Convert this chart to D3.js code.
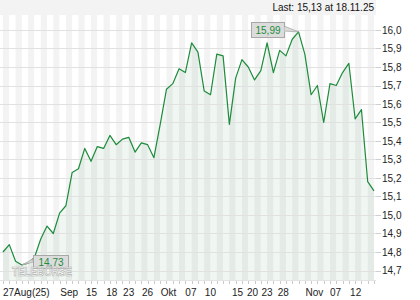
<!DOCTYPE html>
<html>
<head>
<meta charset="utf-8">
<script src="https://cdn.jsdelivr.net/npm/d3@7"></script>
<style>
  body { margin: 0; background: #fff; }
  svg { display: block; font-family: "Liberation Sans", Arial, sans-serif; }
</style>
</head>
<body>
<div id="chart"></div>
<script>
// trading days 27.08.25 - 18.11.25
const dates = [
  "27.08", "28.08", "29.08",
  "01.09", "02.09", "03.09", "04.09", "05.09", "08.09", "09.09", "10.09", "11.09", "12.09",
  "15.09", "16.09", "17.09", "18.09", "19.09", "22.09", "23.09", "24.09", "25.09", "26.09",
  "29.09", "30.09",
  "01.10", "02.10", "03.10", "06.10", "07.10", "08.10", "09.10", "10.10", "13.10", "14.10",
  "15.10", "16.10", "17.10", "20.10", "21.10", "22.10", "23.10", "24.10", "27.10", "28.10",
  "29.10", "30.10", "31.10",
  "03.11", "04.11", "05.11", "06.11", "07.11", "10.11", "11.11", "12.11", "13.11", "14.11",
  "17.11", "18.11"
];
const closes = [
  14.80, 14.84, 14.75, 14.73, 14.74, 14.77, 14.87, 14.94, 14.90, 15.01,
  15.05, 15.23, 15.25, 15.36, 15.29, 15.37, 15.36, 15.43, 15.38, 15.41,
  15.42, 15.34, 15.39, 15.38, 15.31, 15.49, 15.68, 15.71, 15.79, 15.77,
  15.93, 15.88, 15.67, 15.65, 15.87, 15.86, 15.49, 15.74, 15.84, 15.80,
  15.73, 15.78, 15.93, 15.77, 15.89, 15.86, 15.95, 15.99, 15.87, 15.65,
  15.70, 15.50, 15.71, 15.70, 15.77, 15.82, 15.52, 15.57, 15.18, 15.13
];
// label anchor positions (in day index units)
const xTickIdx = [0, 9.1, 13.2, 16.4, 19.1, 22.1, 25.1, 29, 32.1, 36.4, 38.8, 41.1, 43.7, 48.1, 52, 55.2];
const xTickLabels = ["27Aug(25)", "Sep", "15", "18", "23", "26", "Okt", "07", "10", "15", "20", "23", "28", "Nov", "07", "12"];
const yTicks = [14.7, 14.8, 14.9, 15.0, 15.1, 15.2, 15.3, 15.4, 15.5, 15.6, 15.7, 15.8, 15.9, 16.0];
const lastText = "Last: 15,13 at 18.11.25";

const W = 420, H = 300;
const plot = { left: 0, right: 376, top: 15, bottom: 280 };
const green = "#1c8b3b";
const fmt = v => d3.format(".2f")(v).replace(".", ",");

const svg = d3.select("#chart").append("svg").attr("width", W).attr("height", H);

const x = d3.scaleLinear().domain([0, closes.length - 1]).range([3, 374]);
const y = d3.scaleLinear().domain([14.7, 16.0]).range([270.5, 30]);

// header strip
svg.append("rect").attr("x", 0).attr("y", 0).attr("width", plot.right).attr("height", plot.top)
  .attr("fill", "#f3f3f3");
svg.append("text").attr("x", 374).attr("y", 10.7).attr("text-anchor", "end")
  .attr("font-size", 10).attr("fill", "#111").text(lastText);

// day stripes
const bands = d3.range(-1, closes.length);
svg.append("g").selectAll("rect").data(bands).enter().append("rect")
  .attr("x", i => Math.max(plot.left, x(i)))
  .attr("y", plot.top)
  .attr("width", i => Math.min(plot.right, x(i + 1)) - Math.max(plot.left, x(i)))
  .attr("height", plot.bottom - plot.top)
  .attr("fill", i => (i % 2 === 0 ? "#f3f3f3" : "#ffffff"));

// area under line
const area = d3.area().x((d, i) => x(i)).y0(plot.bottom).y1(d => y(d));
svg.append("path").datum(closes).attr("d", area)
  .attr("fill", "#2e7d32").attr("fill-opacity", 0.07);

// horizontal grid + right axis
const gy = svg.append("g");
gy.selectAll("line.grid").data(yTicks).enter().append("line")
  .attr("class", "grid")
  .attr("x1", plot.left).attr("x2", plot.right)
  .attr("y1", d => Math.round(y(d)) + 0.5).attr("y2", d => Math.round(y(d)) + 0.5)
  .attr("stroke", "#e1e1e1");
gy.selectAll("line.tick").data(yTicks).enter().append("line")
  .attr("class", "tick")
  .attr("x1", plot.right).attr("x2", plot.right + 5)
  .attr("y1", d => Math.round(y(d)) + 0.5).attr("y2", d => Math.round(y(d)) + 0.5)
  .attr("stroke", "#cfcfcf");
gy.selectAll("text").data(yTicks).enter().append("text")
  .attr("x", 382).attr("y", d => y(d)).attr("dy", "0.35em")
  .attr("font-size", 10).attr("fill", "#222")
  .text(d => d3.format(".1f")(d).replace(".", ","));

// bottom day ticks
svg.append("line").attr("x1", plot.left).attr("x2", plot.right)
  .attr("y1", plot.bottom + 0.5).attr("y2", plot.bottom + 0.5).attr("stroke", "#e4e4e4");
svg.append("g").selectAll("line").data(closes).enter().append("line")
  .attr("x1", (d, i) => Math.round(x(i)) + 0.5).attr("x2", (d, i) => Math.round(x(i)) + 0.5)
  .attr("y1", plot.bottom + 1).attr("y2", plot.bottom + 4)
  .attr("stroke", "#c8c8c8");
svg.append("g").selectAll("text").data(xTickIdx).enter().append("text")
  .attr("x", d => x(d)).attr("y", 296)
  .attr("font-size", 10).attr("fill", "#222")
  .text((d, i) => xTickLabels[i]);

// price line
const line = d3.line().x((d, i) => x(i)).y(d => y(d));
svg.append("path").datum(closes).attr("d", line)
  .attr("fill", "none").attr("stroke", green).attr("stroke-width", 1.2)
  .attr("stroke-linejoin", "round");

// max / min callouts
const iMax = d3.maxIndex(closes), iMin = d3.minIndex(closes);
function callout(i, bx, by, bw, bh, side) {
  const px = x(i), py = y(closes[i]);
  const g = svg.append("g");
  const ex = side === "left" ? bx + bw : bx;
  g.append("path")
    .attr("d", `M${ex},${by + 4}L${px},${py}L${ex},${by + bh - 6}Z`)
    .attr("fill", "#dcdcdc").attr("stroke", "#a8a8a8").attr("stroke-width", 0.8);
  g.append("rect").attr("x", bx + 0.5).attr("y", by + 0.5).attr("width", bw).attr("height", bh)
    .attr("fill", "#dcdcdc").attr("stroke", "#a8a8a8");
  g.append("rect").attr("x", ex - (side === "left" ? 1 : -1)).attr("y", by + 5)
    .attr("width", 1.5).attr("height", bh - 10).attr("fill", "#dcdcdc");
  g.append("text").attr("x", bx + bw / 2 + 0.5).attr("y", by + bh / 2 + 0.5).attr("dy", "0.35em")
    .attr("text-anchor", "middle").attr("font-size", 10).attr("fill", green)
    .text(fmt(closes[i]));
}
callout(iMax, 251, 22, 33, 15, "left");
callout(iMin, 33, 255, 35, 13, "right");

// watermark (drawn over the min callout, as in the source)
svg.append("text").attr("x", 12).attr("y", 276)
  .attr("font-size", 13).attr("font-weight", "bold")
  .attr("textLength", 60).attr("lengthAdjust", "spacingAndGlyphs")
  .attr("fill", "#ffffff").attr("fill-opacity", 0.5)
  .attr("stroke", "#b4b4b4").attr("stroke-width", 0.7)
  .text("TELEBÖRSE");
</script>
</body>
</html>
